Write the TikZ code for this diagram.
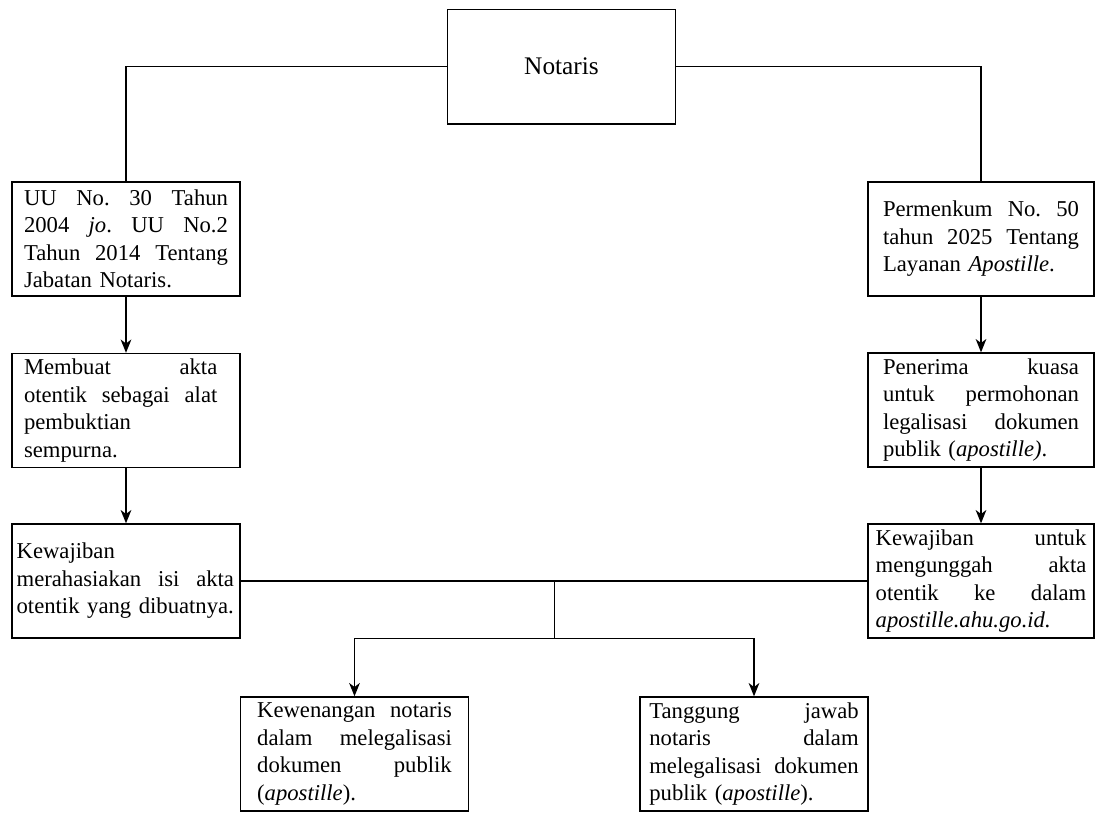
\documentclass[tikz,border=0pt]{standalone}
\usepackage{fontspec}
\setmainfont{Liberation Serif}
\usetikzlibrary{arrows.meta}
% one justified line of a box
\newcommand{\jl}[2]{\noindent\hbox to #1{\spaceskip=\fontdimen2\font plus 1fil\relax #2}\\}
\frenchspacing
\begin{document}
\begin{tikzpicture}[x=0.75pt, y=-0.75pt, line width=1pt,
    box/.style={draw, line width=1pt, minimum width=171pt, minimum height=85.5pt, align=left, font=\fontsize{17}{20.6}\selectfont},
    arr/.style={-{Stealth[length=10pt, width=8pt, inset=3pt]}}]
  \useasboundingbox (0,0) rectangle (1095,814);
  \node[draw, line width=1pt, minimum width=171pt, minimum height=86pt, font=\fontsize{19}{23}\selectfont] (notaris) at (561.5,66.5) {Notaris};

  % left column
  \node[box, text width=153pt, inner xsep=9pt] (uu) at (126,239) {\jl{153pt}{UU No. 30 Tahun}\jl{153pt}{2004 \textit{jo}. UU No.2}\jl{153pt}{Tahun 2014 Tentang}Jabatan Notaris.};
  \node[box, text width=153pt, inner xsep=9pt] (buat) at (126,410.5) {\jl{145pt}{Membuat akta}\jl{145pt}{otentik sebagai alat}pembuktian\\sempurna.};
  \node[box, text width=164pt, inner xsep=3.5pt] (rahasia) at (126,581) {Kewajiban\\\jl{163pt}{merahasiakan isi akta}otentik yang dibuatnya.};

  % right column
  \node[box, minimum width=169.5pt, text width=147pt, inner xsep=11.25pt] (perm) at (981,239) {\jl{147pt}{Permenkum No. 50}\jl{147pt}{tahun 2025 Tentang}Layanan \textit{Apostille}.};
  \node[box, minimum width=169.5pt, text width=147pt, inner xsep=11.25pt] (terima) at (981,410) {\jl{147pt}{Penerima kuasa}\jl{147pt}{untuk permohonan}\jl{147pt}{legalisasi dokumen}publik (\textit{apostille)}.};
  \node[box, minimum width=169.5pt, text width=158pt, inner xsep=5.75pt] (unggah) at (981,581) {\jl{158pt}{Kewajiban untuk}\jl{158pt}{mengunggah akta}\jl{158pt}{otentik ke dalam}\textit{apostille.ahu.go.id.}};

  % bottom row
  \node[box, text width=146pt, inner xsep=12.5pt] (wenang) at (354.5,754) {\jl{146pt}{Kewenangan notaris}\jl{146pt}{dalam melegalisasi}\jl{146pt}{dokumen publik}(\textit{apostille}).};
  \node[box, text width=157pt, inner xsep=7pt] (tanggung) at (754,754) {\jl{157pt}{Tanggung jawab}\jl{157pt}{notaris dalam}\jl{157pt}{melegalisasi dokumen}publik (\textit{apostille}).};

  \coordinate (mid) at (554.5,581);
  \coordinate (split) at (554.5,638.5);

  \draw (notaris.west) -| (uu.north);
  \draw (notaris.east) -| (perm.north);
  \draw[arr] (uu) -- (buat);
  \draw[arr] (buat) -- (rahasia);
  \draw[arr] (perm) -- (terima);
  \draw[arr] (terima) -- (unggah);
  \draw (rahasia.east) -- (unggah.west);
  \draw (mid) -- (split);
  \draw[arr] (split) -| (wenang.north);
  \draw[arr] (split) -| (tanggung.north);
\end{tikzpicture}
\end{document}
